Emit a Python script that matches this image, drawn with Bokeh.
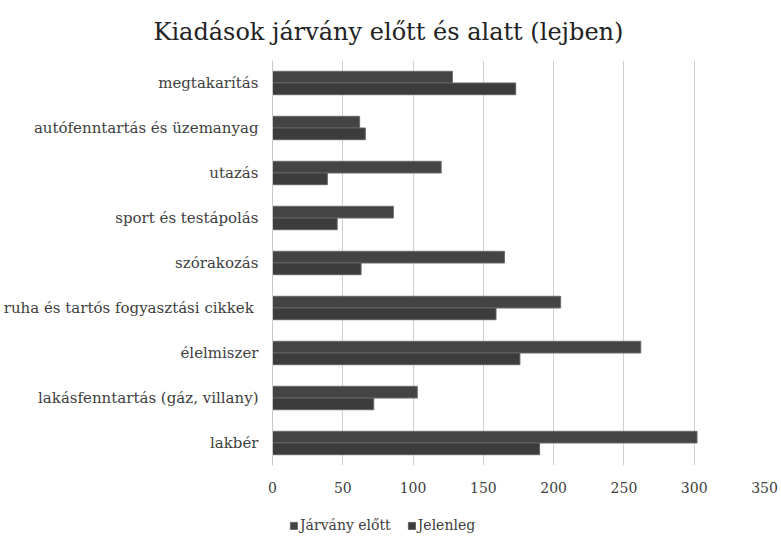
from bokeh.plotting import figure
from bokeh.layouts import column
from bokeh.models import ColumnDataSource, Range1d, FactorRange, Legend, LegendItem
from bokeh.transform import dodge
from bokeh.embed import file_html
from bokeh.resources import INLINE

categories = ["megtakarítás", "autófenntartás és üzemanyag", "utazás", "sport és testápolás",
              "szórakozás", "ruha és tartós fogyasztási  cikkek", "élelmiszer",
              "lakásfenntartás (gáz, villany)", "lakbér"]
jarvany_elott = [128, 62, 120, 86, 165, 205, 262, 103, 302]
jelenleg = [173, 66, 39, 46, 63, 159, 176, 72, 190]
series_names = ["Járvány előtt", "Jelenleg"]
x_ticks = [0, 50, 100, 150, 200, 250, 300, 350]

FONT = "DejaVu Serif"
C_BEFORE, L_BEFORE = "#444444", "#6a6a6a"
C_NOW, L_NOW = "#3c3c3c", "#626262"
source = ColumnDataSource(dict(cat=categories, before=jarvany_elott, now=jelenleg))

p = figure(width=778, height=500, output_backend="svg", toolbar_location=None,
           y_range=FactorRange(factors=list(reversed(categories)), range_padding=0),
           x_range=Range1d(0, 350),
           min_border_left=272, min_border_right=14, min_border_top=60, min_border_bottom=35)
p.outline_line_color = None

p.hbar(y=dodge("cat", 0.13, range=p.y_range), right="before", left=0, height=0.26,
       source=source, fill_color=C_BEFORE, line_color=L_BEFORE, line_width=1)
p.hbar(y=dodge("cat", -0.13, range=p.y_range), right="now", left=0, height=0.26,
       source=source, fill_color=C_NOW, line_color=L_NOW, line_width=1)

p.xaxis.ticker = x_ticks
p.xaxis.axis_line_color = None
p.xaxis.major_tick_line_color = None
p.xaxis.minor_tick_line_color = None
p.xaxis.major_label_text_font = FONT
p.xaxis.major_label_text_font_size = "14px"
p.xaxis.major_label_text_color = "#404040"
p.xaxis.major_label_standoff = 10

p.yaxis.axis_line_color = "#c8c8c8"
p.yaxis.major_tick_line_color = None
p.yaxis.minor_tick_line_color = None
p.yaxis.major_label_text_font = FONT
p.yaxis.major_label_text_font_size = "15px"
p.yaxis.major_label_text_color = "#404040"
p.yaxis.major_label_standoff = 8

p.xgrid.ticker = x_ticks
p.xgrid.grid_line_color = "#d0d0d0"
p.ygrid.grid_line_color = None

p.title.text = "Kiadások járvány előtt és alatt (lejben)"
p.title.text_font = FONT
p.title.text_font_size = "24px"
p.title.text_font_style = "normal"
p.title.text_color = "#222222"
p.title.align = "left"
p.title.offset = -119
p.title.standoff = 30

# legend strip below the chart (hidden copies of the two series supply the legend swatches)
p2 = figure(width=778, height=37, output_backend="svg", toolbar_location=None,
            y_range=FactorRange(factors=list(reversed(categories))), x_range=Range1d(0, 350),
            x_axis_type=None, y_axis_type=None, min_border=0)
p2.outline_line_color = None
p2.grid.visible = False
e1 = p2.hbar(y="cat", right="before", left=0, height=0.26, source=source,
             fill_color=C_BEFORE, line_color=L_BEFORE, visible=False)
e2 = p2.hbar(y="cat", right="now", left=0, height=0.26, source=source,
             fill_color=C_NOW, line_color=L_NOW, visible=False)
legend = Legend(items=[LegendItem(label=series_names[0], renderers=[e1]),
                       LegendItem(label=series_names[1], renderers=[e2])],
                orientation="horizontal", location=(17, 4),
                label_text_font=FONT, label_text_font_size="14px", label_text_color="#404040",
                glyph_width=9, glyph_height=9, spacing=16, label_standoff=2,
                border_line_color=None, background_fill_alpha=0, padding=0, margin=0)
p2.add_layout(legend, "center")

layout = column(p, p2, spacing=0)
open("out.html", "w").write(file_html(layout, INLINE))
